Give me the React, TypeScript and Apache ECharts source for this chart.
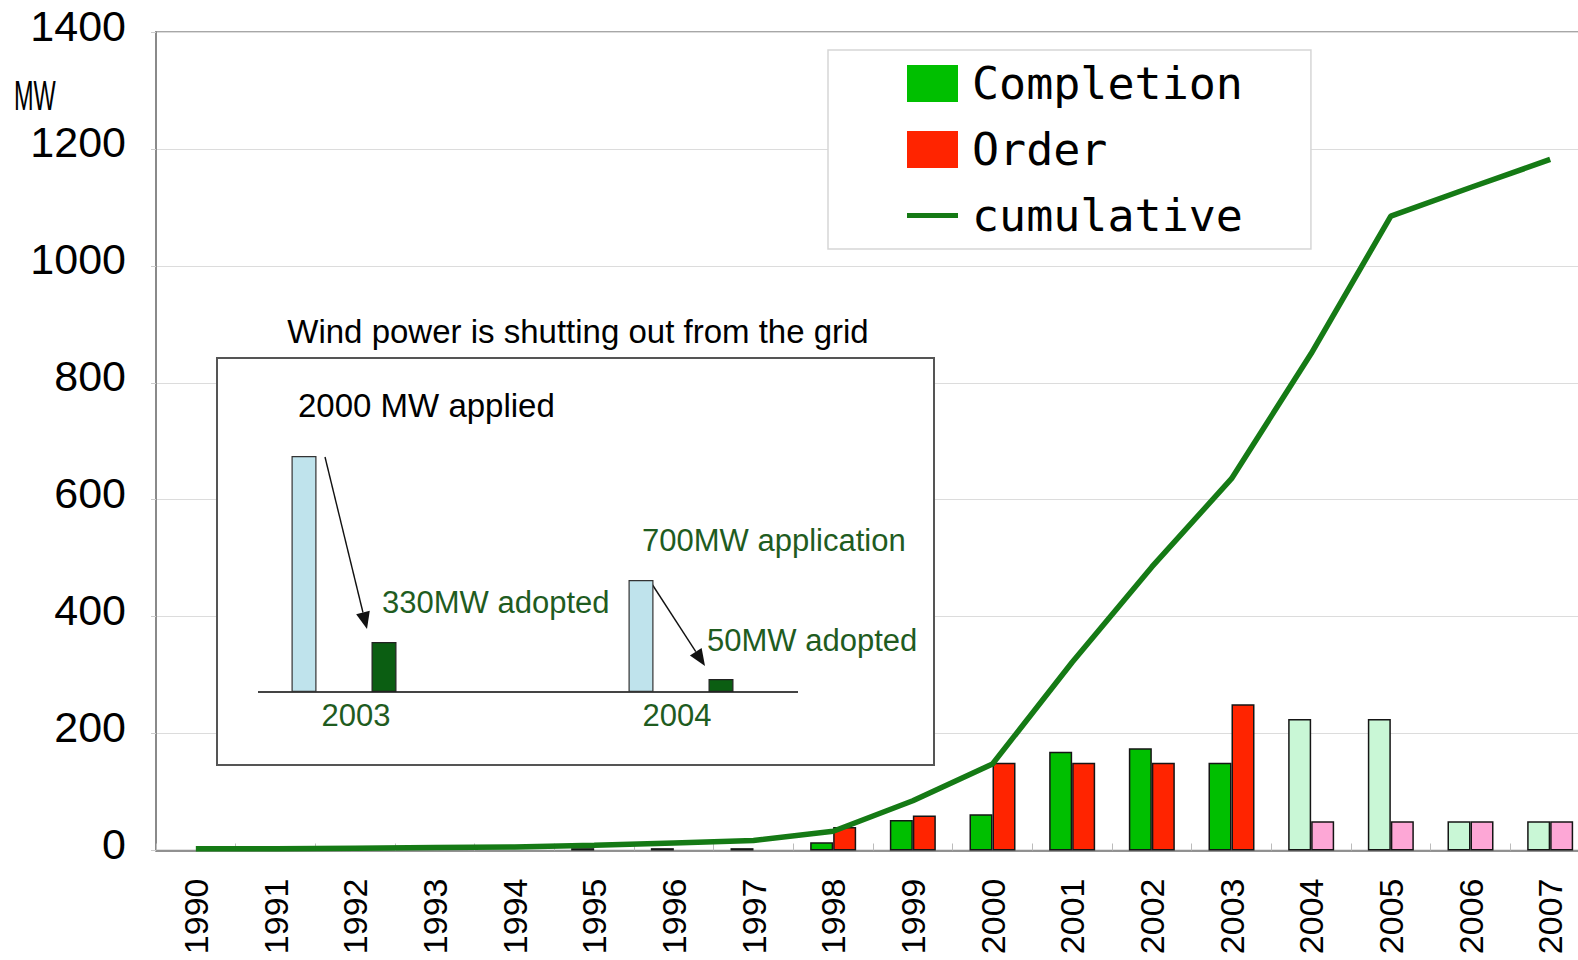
import React, { useEffect, useRef } from 'react';
import * as echarts from 'echarts';

const years = ['1990','1991','1992','1993','1994','1995','1996','1997','1998','1999','2000','2001','2002','2003','2004','2005','2006','2007'];
const completion = [0, 0, 0, 0, 0, 4, 4, 4, 14, 52, 62, 169, 175, 150, 225, 225, 50, 50];
const order = [0, 0, 0, 0, 0, 0, 0, 0, 40, 60, 150, 150, 150, 250, 50, 50, 50, 50];
const cumulative = [3, 3, 4, 5, 6, 9, 13, 17, 33, 85, 148, 322, 485, 636, 850, 1085, 1134, 1182];
const firstProjectedYear = '2004';
const yTicks = { min: 0, max: 1400, interval: 200 };

const insetYears = ['2003', '2004'];
const insetApplied = [236, 112];
const insetAdopted = [50, 13];

const ARIAL = "'Liberation Sans', Arial, sans-serif";
const MONO = "'DejaVu Sans Mono', 'Liberation Mono', monospace";
const DARKGREEN_TEXT = '#1f5c1f';

function arrow(x1: number, y1: number, x2: number, y2: number, head = 17, half = 7) {
  const dx = x2 - x1, dy = y2 - y1;
  const len = Math.hypot(dx, dy);
  const ux = dx / len, uy = dy / len;
  const bx = x2 - ux * head, by = y2 - uy * head;
  return [
    { type: 'line', z: 3, shape: { x1, y1, x2: bx, y2: by }, style: { stroke: '#111', lineWidth: 1.4 } },
    { type: 'polygon', z: 3, shape: { points: [[x2, y2], [bx - uy * half, by + ux * half], [bx + uy * half, by - ux * half]] }, style: { fill: '#111' } },
  ];
}

export default function App() {
  const ref = useRef<HTMLDivElement>(null);
  useEffect(() => {
    const chart = echarts.init(ref.current!, null, { renderer: 'svg' });
    const projIdx = years.indexOf(firstProjectedYear);
    const compData = completion.map((v, i) =>
      v === 0 ? null : i >= projIdx ? { value: v, itemStyle: { color: '#c9f7d6' } } : v);
    const orderData = order.map((v, i) =>
      v === 0 ? null : i >= projIdx ? { value: v, itemStyle: { color: '#fda7d6' } } : v);

    const option: any = {
      animation: false,
      backgroundColor: '#fff',
      grid: [
        { left: 156, top: 32, width: 1434, height: 818.5, show: true, borderColor: '#8a8a8a', borderWidth: 1.5, backgroundColor: 'transparent', outerBoundsMode: 'none', containLabel: false },
        { left: 175.5, top: 456, width: 674, height: 236, outerBoundsMode: 'none', containLabel: false },
      ],
      legend: {
        data: [
          { name: 'Completion', icon: 'rect' },
          { name: 'Order', icon: 'rect' },
          { name: 'cumulative', icon: 'path://M0,0L51,0L51,5L0,5Z', itemStyle: { color: '#157a15' } },
        ],
        orient: 'vertical',
        left: 828,
        top: 50,
        padding: [11, 68, 11, 79],
        itemWidth: 51,
        itemHeight: 37,
        itemGap: 21,
        backgroundColor: '#fff',
        borderColor: '#d6d6d6',
        borderWidth: 1.5,
        itemStyle: { borderWidth: 0 },
        textStyle: { fontFamily: MONO, fontSize: 45, color: '#000', padding: [0, 0, 0, 9] },
        selectedMode: false,
      },
      xAxis: [
        {
          type: 'category',
          gridIndex: 0,
          data: years,
          boundaryGap: true,
          axisLine: { lineStyle: { color: '#777', width: 1.5 } },
          axisTick: { show: true, inside: true, length: 7, lineStyle: { color: '#bbb' } },
          axisLabel: { rotate: 90, margin: 28, fontFamily: ARIAL, fontSize: 34, color: '#000', interval: 0 },
        },
        {
          type: 'category',
          gridIndex: 1,
          z: 3,
          data: [
            { value: insetYears[0], textStyle: { padding: [0, 0, 0, 24] } },
            { value: insetYears[1], textStyle: { padding: [0, 8, 0, 0] } },
          ],
          axisLine: { show: false },
          axisTick: { show: false },
          axisLabel: { margin: 8, fontFamily: ARIAL, fontSize: 31, color: DARKGREEN_TEXT },
        },
      ],
      yAxis: [
        {
          type: 'value',
          gridIndex: 0,
          min: yTicks.min,
          max: yTicks.max,
          interval: yTicks.interval,
          axisLine: { show: true, lineStyle: { color: '#8a8a8a', width: 2 } },
          axisTick: { show: true, length: 5, lineStyle: { color: '#ccc' } },
          splitLine: { lineStyle: { color: '#dcdcdc', width: 1.2 } },
          axisLabel: {
            margin: 30, fontFamily: ARIAL, fontSize: 43, color: '#000',
            verticalAlign: 'bottom', lineHeight: 13,
            formatter: (v: number) => String(v),
          },
        },
        {
          type: 'value',
          gridIndex: 1,
          min: 0,
          max: 236,
          show: false,
        },
      ],
      series: [
        {
          name: 'Completion',
          type: 'bar',
          data: compData,
          barWidth: 23,
          barGap: '0%',
          itemStyle: { color: '#00bf00', borderColor: '#151515', borderWidth: 1.5 },
        },
        {
          name: 'Order',
          type: 'bar',
          data: orderData,
          barWidth: 23,
          barGap: '0%',
          itemStyle: { color: '#ff2400', borderColor: '#151515', borderWidth: 1.5 },
        },
        {
          name: 'cumulative',
          type: 'line',
          data: cumulative,
          symbol: 'none',
          z: 4,
          lineStyle: { color: '#157a15', width: 5.5 },
          itemStyle: { color: '#157a15' },
        },
        {
          name: 'applied',
          type: 'bar',
          xAxisIndex: 1,
          yAxisIndex: 1,
          data: insetApplied,
          barWidth: 25,
          barGap: '220%',
          z: 3,
          itemStyle: { color: '#bfe3ec', borderColor: '#333', borderWidth: 1.2 },
        },
        {
          name: 'adopted',
          type: 'bar',
          xAxisIndex: 1,
          yAxisIndex: 1,
          data: insetAdopted,
          barWidth: 25,
          barGap: '220%',
          z: 3,
          itemStyle: { color: '#0b5e12', borderColor: '#222', borderWidth: 1.2 },
        },
      ],
      graphic: [
        { type: 'text', z: 5, x: 14, y: 74, scaleX: 0.56, style: { text: 'MW', fontFamily: ARIAL, fontSize: 42, fill: '#000', textVerticalAlign: 'top' } },
        { type: 'rect', z: 1, shape: { x: 217, y: 358, width: 717, height: 407 }, style: { fill: '#fff', stroke: '#555', lineWidth: 2 } },
        { type: 'line', z: 3, shape: { x1: 258, y1: 692, x2: 798, y2: 692 }, style: { stroke: '#444', lineWidth: 2 } },
        { type: 'text', z: 3, x: 578, y: 331, style: { text: 'Wind power is shutting out from the grid', fontFamily: ARIAL, fontSize: 33, fill: '#000', textAlign: 'center', textVerticalAlign: 'middle' } },
        { type: 'text', z: 3, x: 298, y: 405, style: { text: '2000 MW applied', fontFamily: ARIAL, fontSize: 33, fill: '#000', textVerticalAlign: 'middle' } },
        { type: 'text', z: 3, x: 382, y: 602, style: { text: '330MW adopted', fontFamily: ARIAL, fontSize: 31, fill: DARKGREEN_TEXT, textVerticalAlign: 'middle' } },
        { type: 'text', z: 3, x: 642, y: 540, style: { text: '700MW application', fontFamily: ARIAL, fontSize: 31, fill: DARKGREEN_TEXT, textVerticalAlign: 'middle' } },
        { type: 'text', z: 3, x: 707, y: 640, style: { text: '50MW adopted', fontFamily: ARIAL, fontSize: 31, fill: DARKGREEN_TEXT, textVerticalAlign: 'middle' } },
        ...arrow(325, 457, 367, 629),
        ...arrow(650, 581, 705, 666),
      ],
    };
    chart.setOption(option);
    return () => chart.dispose();
  }, []);
  return (
    <div
      ref={ref}
      style={{ position: 'fixed', left: 0, top: 0, width: 1578, height: 960, background: '#fff' }}
    />
  );
}
